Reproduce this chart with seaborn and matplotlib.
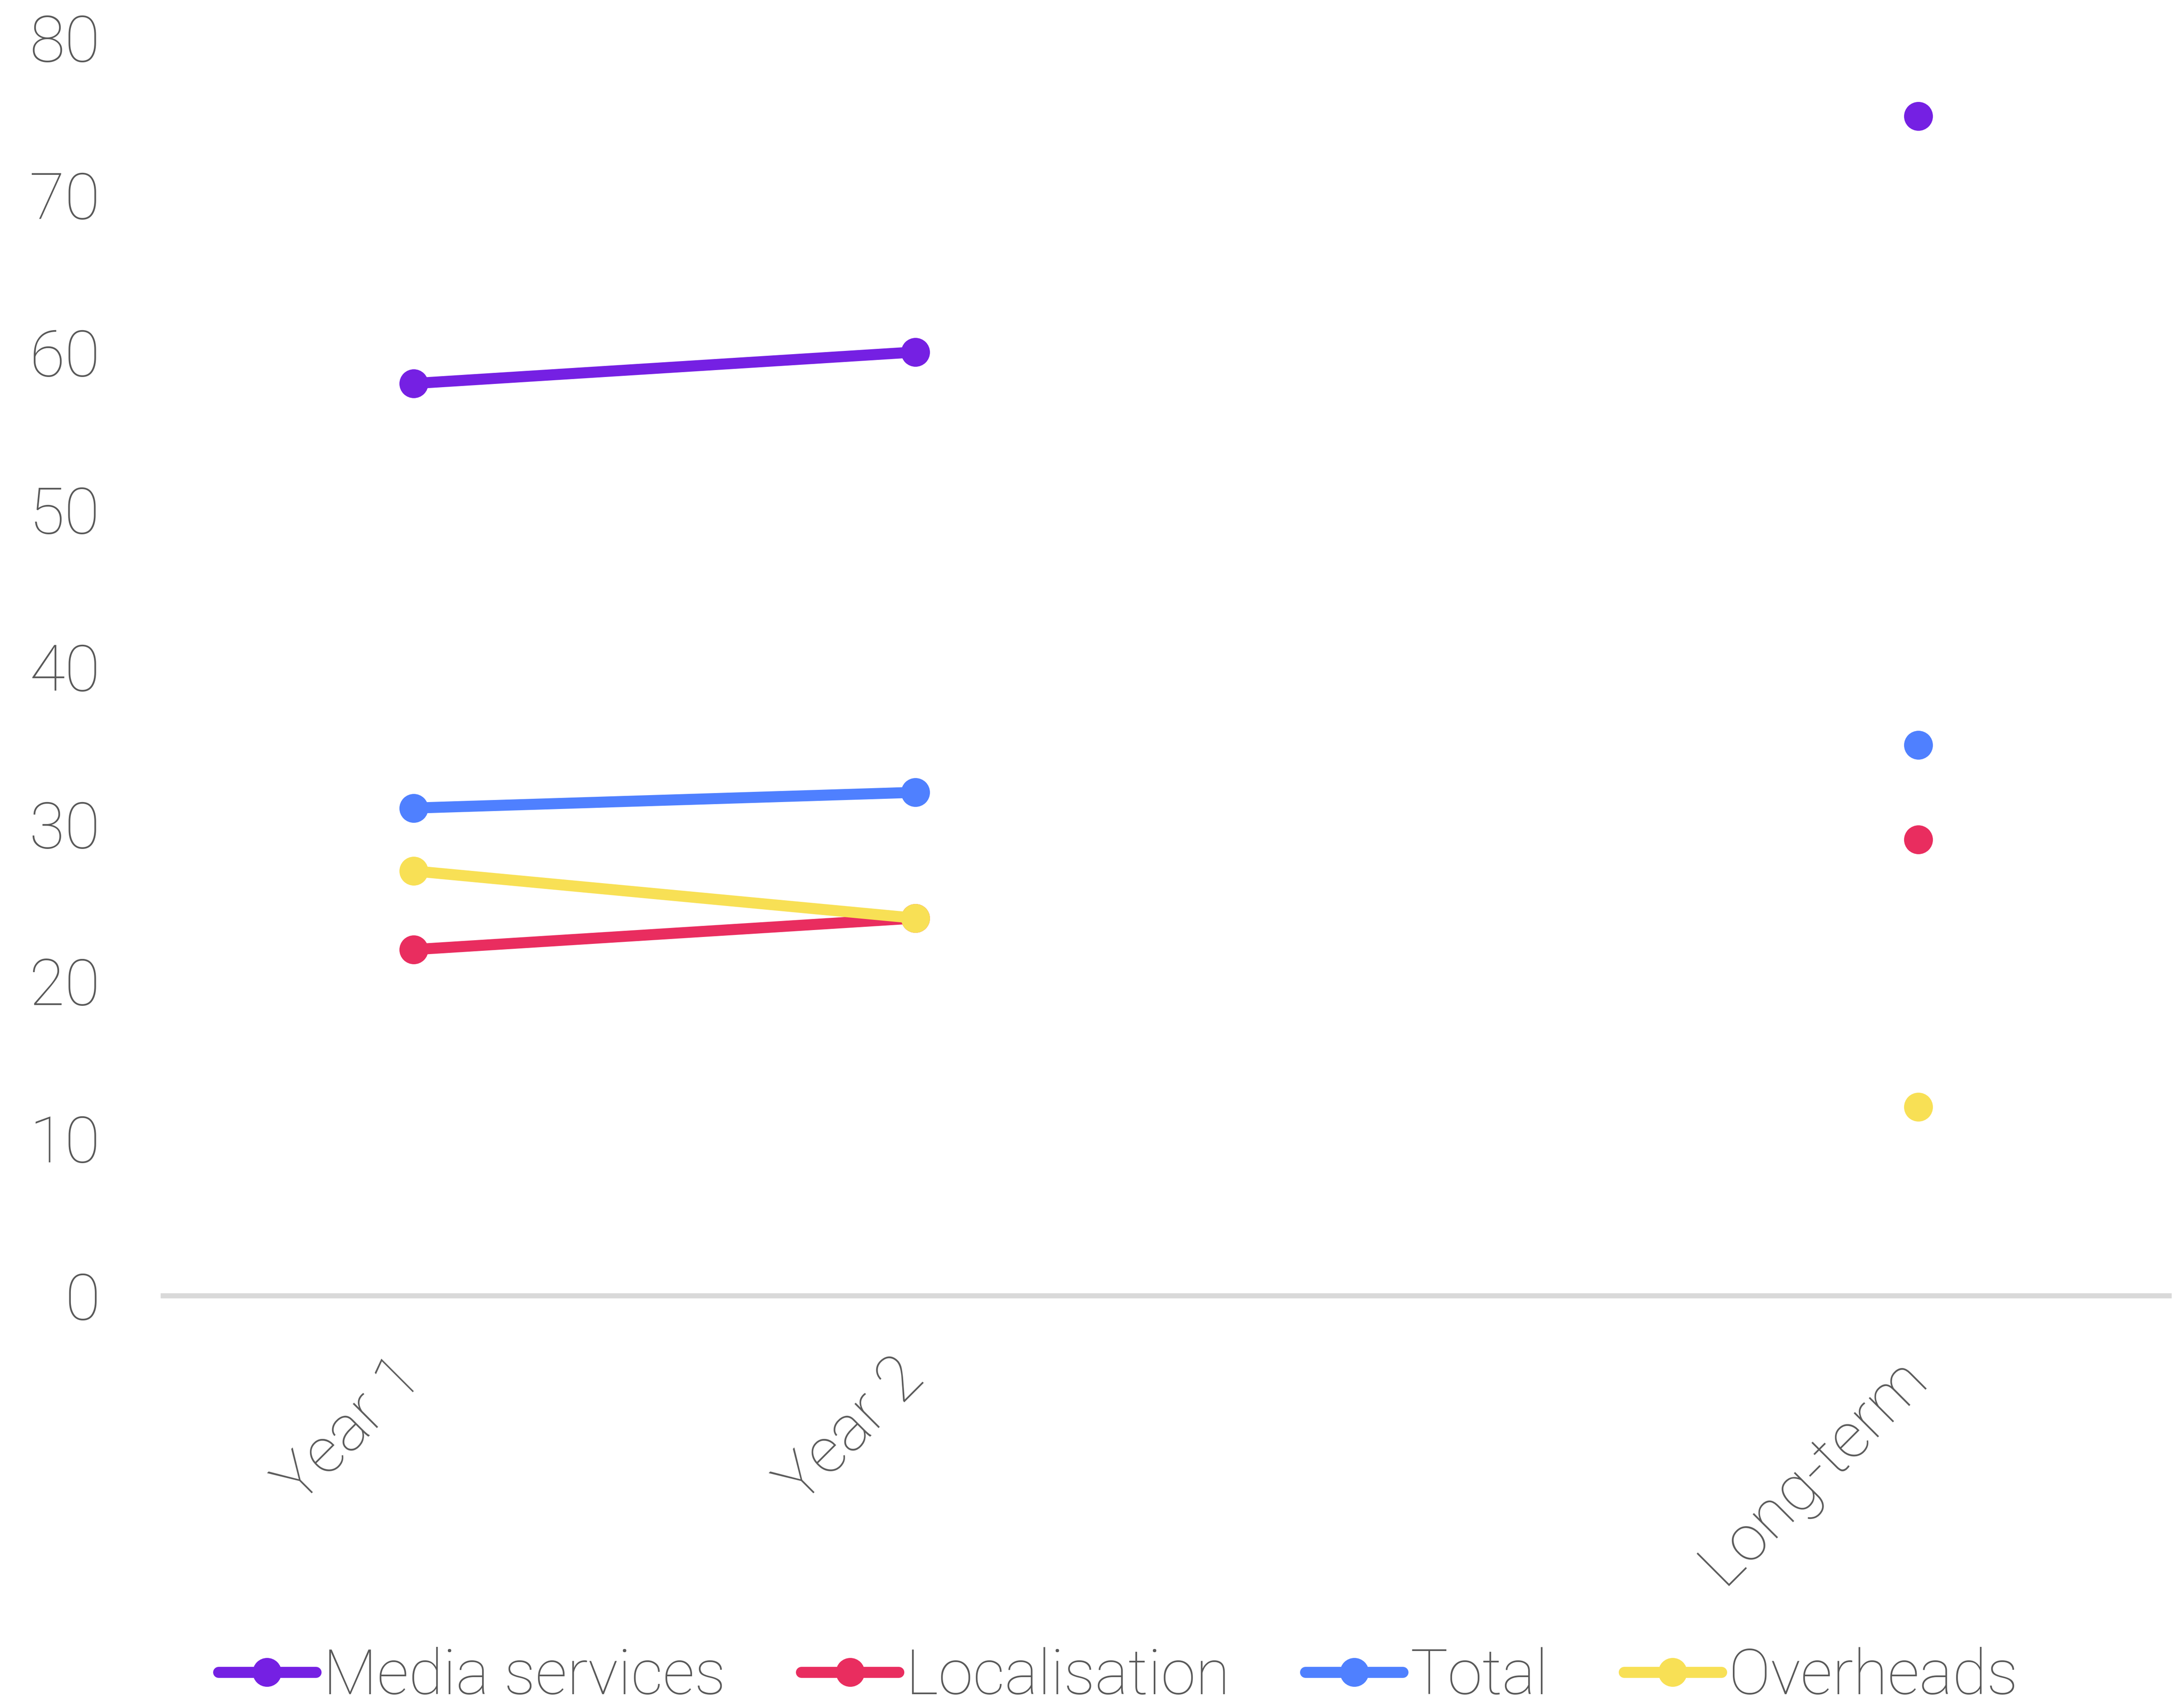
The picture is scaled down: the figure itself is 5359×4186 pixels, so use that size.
import numpy as np
import pandas as pd
import matplotlib
matplotlib.use("Agg")
import matplotlib.pyplot as plt
import matplotlib.transforms as mtransforms
import seaborn as sns

# Categories along the x axis (the third slot is an empty spacer)
categories = ["Year 1", "Year 2", "", "Long-term"]

# Series values (NaN where a series has no value)
media_services = [58, 60, np.nan, 75]
localisation = [22, 24, np.nan, 29]
total = [31, 32, np.nan, 35]
overheads = [27, 24, np.nan, 12]

series_names = ["Media services", "Localisation", "Total", "Overheads"]
series_values = [media_services, localisation, total, overheads]
colors = ["#7520E3", "#E92D5F", "#4F80FF", "#F8E055"]

y_ticks = [0, 10, 20, 30, 40, 50, 60, 70, 80]

# Long-format table; a new segment starts after every missing value so lines break there
rows = []
for name, vals in zip(series_names, series_values):
    seg = 0
    for i, v in enumerate(vals):
        if np.isnan(v):
            seg += 1
            continue
        rows.append({"pos": i, "value": v, "series": name, "segment": seg})
df = pd.DataFrame(rows)

sns.set_theme(style="white")
plt.rcParams["font.family"] = ["Roboto", "DejaVu Sans"]
plt.rcParams["font.weight"] = "light"
text_color = "#595959"

fig = plt.figure(figsize=(5359 / 300, 4186 / 300), dpi=300)
ax = fig.add_axes([0.0746, 0.2406, 0.9185, 0.7374])

sns.lineplot(
    data=df, x="pos", y="value", hue="series", units="segment",
    estimator=None, palette=dict(zip(series_names, colors)),
    hue_order=series_names, marker="o", markersize=17,
    markeredgewidth=0, linewidth=6.5, ax=ax, legend=True, sort=False,
)

ax.set_xlim(-0.5, len(categories) - 0.5)
ax.set_ylim(0, 80)
ax.set_yticks(y_ticks)
ax.set_xticks(range(len(categories)))
ax.set_xticklabels(categories, rotation=45, ha="right")
ax.set_xlabel("")
ax.set_ylabel("")

for s in ["top", "right", "left"]:
    ax.spines[s].set_visible(False)
ax.spines["bottom"].set_color("#D9D9D9")
ax.spines["bottom"].set_linewidth(3)
ax.grid(False)

ax.tick_params(axis="y", length=0, pad=37, labelsize=38, labelcolor=text_color)
ax.tick_params(axis="x", length=0, pad=30, labelsize=38, labelcolor=text_color)

# nudge rotated category labels slightly to the right
shift = mtransforms.ScaledTranslation(50 / 300, 0, fig.dpi_scale_trans)
for lbl in ax.get_xticklabels():
    lbl.set_transform(lbl.get_transform() + shift)

handles, labels = ax.get_legend_handles_labels()
ax.get_legend().remove()
leg = fig.legend(
    handles, labels, loc="center", bbox_to_anchor=(0.512, 0.017),
    ncol=4, frameon=False, fontsize=37, handlelength=1.55,
    handletextpad=0.12, columnspacing=1.2, borderaxespad=0,
)
for t in leg.get_texts():
    t.set_color(text_color)

fig.savefig("out.png", dpi=300)
